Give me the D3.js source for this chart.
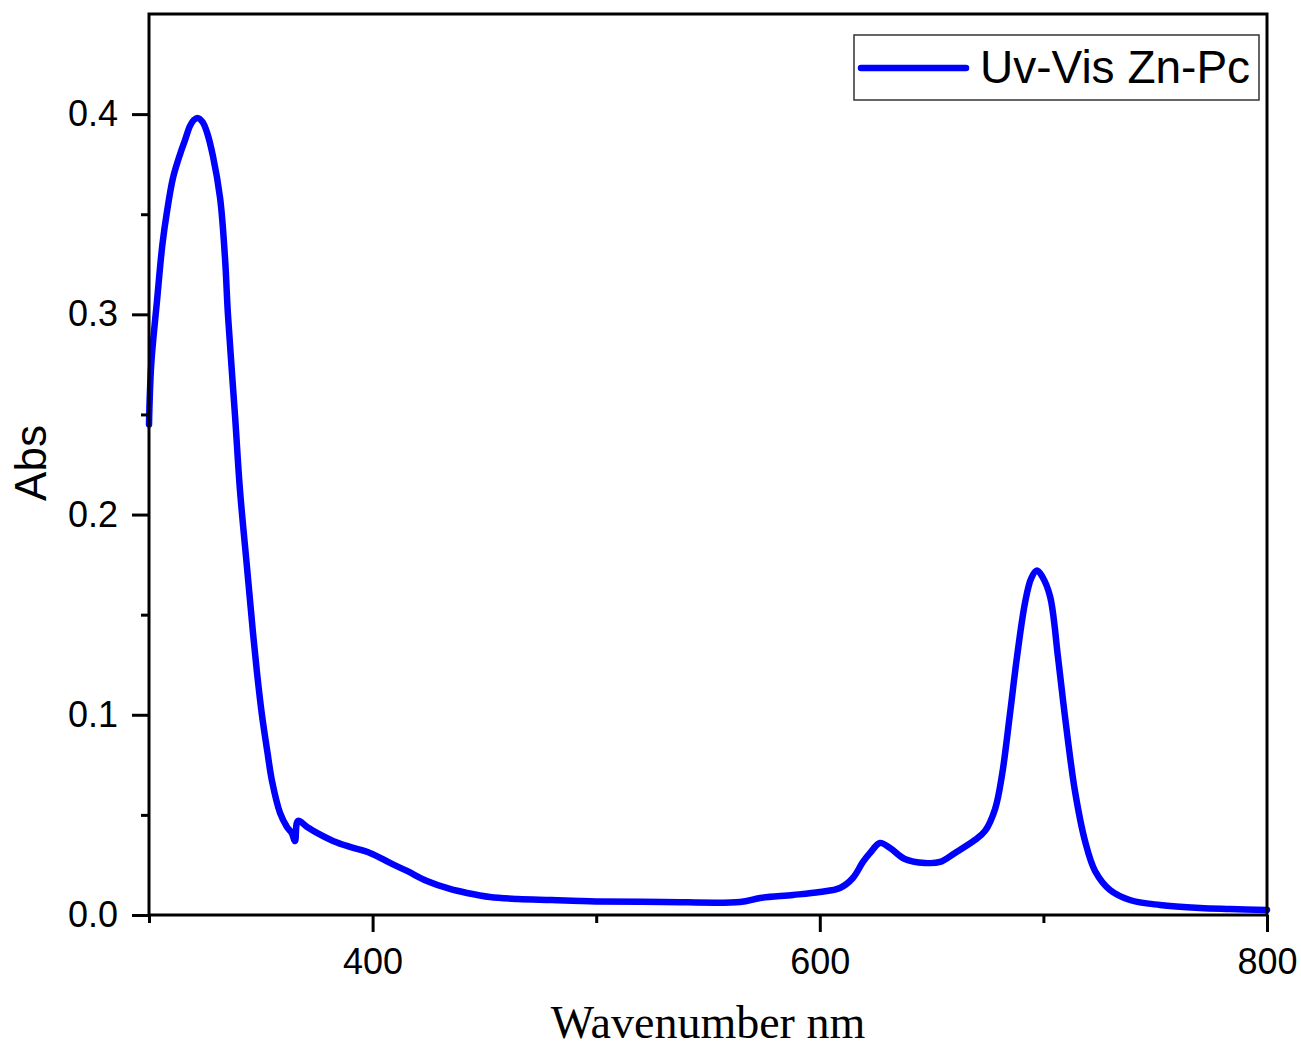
<!DOCTYPE html>
<html>
<head>
<meta charset="utf-8">
<script src="https://cdn.jsdelivr.net/npm/d3@7"></script>
<style>
  body { margin: 0; background: #fff; }
</style>
</head>
<body>
<svg id="chart" width="1301" height="1050"></svg>
<script>
// wavelength (nm) and absorbance
const wavelength = [300, 301, 303.6, 306, 308, 310.7, 313.9, 316.1, 318.3, 320, 321.9, 324, 325.9, 328.6, 331.8, 334, 335.3, 338.5, 340.7, 343.8, 346.5, 348.5, 350.5, 353, 355, 358.6, 361.7, 363.8, 365.3, 366.6, 370.7, 375.1, 382.3, 389.9, 398.8, 407.8, 415.4, 424.3, 434.6, 442.2, 452.5, 465, 480, 492.8, 500, 530, 564.3, 573.3, 588, 600, 609, 614.8, 619.3, 622.5, 626.9, 631.4, 638, 647, 653.8, 660.5, 669.4, 673.9, 678.4, 681.5, 685, 688.2, 691.8, 694.5, 697.1, 699.5, 703, 706.5, 708.8, 711, 714.1, 718.6, 723.1, 729.8, 738.7, 752.1, 770, 783.5, 800]
const absorbance = [0.245, 0.275, 0.307, 0.335, 0.351, 0.368, 0.380, 0.387, 0.394, 0.397, 0.398, 0.396, 0.391, 0.379, 0.358, 0.328, 0.300, 0.249, 0.212, 0.174, 0.141, 0.119, 0.100, 0.081, 0.067, 0.051, 0.044, 0.041, 0.037, 0.047, 0.044, 0.041, 0.037, 0.034, 0.031, 0.026, 0.022, 0.017, 0.013, 0.011, 0.009, 0.008, 0.0075, 0.007, 0.0068, 0.0065, 0.0065, 0.0085, 0.010, 0.0115, 0.0135, 0.0185, 0.0265, 0.031, 0.036, 0.0335, 0.028, 0.026, 0.0265, 0.031, 0.0375, 0.042, 0.053, 0.070, 0.100, 0.129, 0.156, 0.168, 0.172, 0.169, 0.159, 0.129, 0.107, 0.087, 0.062, 0.037, 0.022, 0.0125, 0.0075, 0.005, 0.0035, 0.003, 0.0025]

const xMajor = [400, 600, 800]
const xMinor = [300, 500, 700]
const yMajor = [0, 0.1, 0.2, 0.3, 0.4]
const yMinor = [0.05, 0.15, 0.25, 0.35]
const seriesName = "Uv-Vis Zn-Pc"

const svg = d3.select("#chart")
const plotLeft = 149, plotRight = 1267, plotTop = 14, plotBottom = 915

const x = d3.scaleLinear().domain([300, 800]).range([plotLeft, plotRight])
const y = d3.scaleLinear().domain([0, 0.45]).range([plotBottom, plotTop])

const data = wavelength.map((w, i) => ({ w: w, a: absorbance[i] }))

// curve
const line = d3.line()
    .x(d => x(d.w))
    .y(d => y(d.a))
    .curve(d3.curveCatmullRom.alpha(0.5))

svg.append("path")
    .datum(data)
    .attr("fill", "none")
    .attr("stroke", "#0000ff")
    .attr("stroke-width", 6.5)
    .attr("stroke-linejoin", "round")
    .attr("stroke-linecap", "round")
    .attr("d", line)

// axes
function styleAxis(g) {
    g.select(".domain").remove()
    g.selectAll(".tick line").attr("stroke", "#000").attr("stroke-width", 3)
    g.selectAll(".tick text")
        .attr("font-family", "'Liberation Sans', Arial, sans-serif")
        .attr("font-size", 36)
        .attr("fill", "#000")
}

svg.append("g")
    .attr("transform", `translate(0,${plotBottom})`)
    .call(d3.axisBottom(x).tickValues(xMajor).tickSize(17).tickPadding(16).tickFormat(d3.format("d")))
    .call(styleAxis)

svg.append("g")
    .attr("transform", `translate(0,${plotBottom})`)
    .call(d3.axisBottom(x).tickValues(xMinor).tickSize(8).tickFormat(""))
    .call(styleAxis)

svg.append("g")
    .attr("transform", `translate(${plotLeft},0)`)
    .call(d3.axisLeft(y).tickValues(yMajor).tickSize(17).tickPadding(14).tickFormat(d3.format(".1f")))
    .call(styleAxis)

svg.append("g")
    .attr("transform", `translate(${plotLeft},0)`)
    .call(d3.axisLeft(y).tickValues(yMinor).tickSize(8).tickFormat(""))
    .call(styleAxis)

// frame
svg.append("rect")
    .attr("x", plotLeft).attr("y", plotTop)
    .attr("width", plotRight - plotLeft).attr("height", plotBottom - plotTop)
    .attr("fill", "none")
    .attr("stroke", "#000")
    .attr("stroke-width", 3)

// axis titles
svg.append("text")
    .attr("x", (plotLeft + plotRight) / 2)
    .attr("y", 1038)
    .attr("text-anchor", "middle")
    .attr("font-family", "'Liberation Serif', 'Times New Roman', serif")
    .attr("font-size", 46)
    .text("Wavenumber nm")

svg.append("text")
    .attr("transform", "translate(46,463) rotate(-90)")
    .attr("text-anchor", "middle")
    .attr("font-family", "'Liberation Sans', Arial, sans-serif")
    .attr("font-size", 44)
    .text("Abs")

// legend
const legend = svg.append("g")
legend.append("rect")
    .attr("x", 854).attr("y", 35)
    .attr("width", 405).attr("height", 65)
    .attr("fill", "#fff")
    .attr("stroke", "#333")
    .attr("stroke-width", 1.5)
legend.append("line")
    .attr("x1", 861).attr("x2", 966)
    .attr("y1", 68).attr("y2", 68)
    .attr("stroke", "#0000ff")
    .attr("stroke-width", 6.5)
    .attr("stroke-linecap", "round")
legend.append("text")
    .attr("x", 980).attr("y", 83)
    .attr("font-family", "'Liberation Sans', Arial, sans-serif")
    .attr("font-size", 46)
    .text(seriesName)
</script>
</body>
</html>
